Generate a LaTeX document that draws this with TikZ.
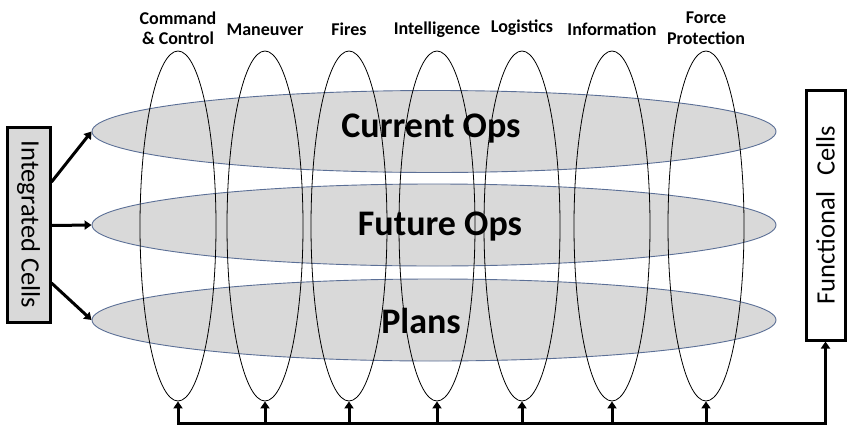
\documentclass[tikz,border=0pt]{standalone}
\usepackage{fontspec}
\setmainfont{Carlito}
\usetikzlibrary{shapes.geometric,arrows.meta,calc}

\definecolor{layerfill}{HTML}{D9D9D9}
\definecolor{layerline}{HTML}{5B6F96}

\tikzset{
  layer/.style={ellipse, draw=layerline, fill=layerfill, line width=0.9pt,
    minimum width=684pt, minimum height=82pt, inner sep=0pt},
  column/.style={ellipse, draw=black, line width=0.8pt,
    minimum width=76pt, minimum height=350pt, inner sep=0pt},
  layertext/.style={font=\fontsize{36}{40}\selectfont\bfseries},
  coltext/.style={font=\fontsize{18}{20.5}\selectfont\bfseries, align=center},
  cellbox/.style={draw=black, line width=3pt, inner sep=0pt,
    font=\fontsize{26.5}{30}\selectfont},
  feed/.style={line width=3pt, -{Triangle[length=7pt,width=9pt]}},
  bus/.style={line width=3pt},
}

\begin{document}
\begin{tikzpicture}[x=1pt, y=-1pt]
  \useasboundingbox (0,0) rectangle (847,426);

  % horizontal planning layers
  \node[layer] (cur) at (434,131.5) {};
  \node[layer] (fut) at (434,225) {};
  \node[layer] (pln) at (434,320) {};

  % functional columns crossing the layers
  \foreach \n/\x in {cc/178, mv/265, fi/349, in/437, lg/522, im/612, fp/706}
    \node[column] (\n) at (\x,226) {};

  % layer titles
  \node[layertext] (curt) at (431,129) {Current Ops};
  \node[layertext] (futt) at (440,227) {Future Ops};
  \node[layertext] (plnt) at (421,321) {Plans};

  % column titles
  \node[coltext] (cct) at (178,28) {Command\\\& Control};
  \node[coltext] (mvt) at (265,30) {Maneuver};
  \node[coltext] (fit) at (349,29) {Fires};
  \node[coltext] (intt) at (437,30) {Intelligence};
  \node[coltext] (lgt) at (522,28) {Logistics};
  \node[coltext] (imt) at (612,29) {Information};
  \node[coltext] (fpt) at (706,28) {Force\\Protection};

  % side boxes
  \node[cellbox, fill=layerfill, minimum width=43pt, minimum height=195pt]
    (ic) at (28.5,224.5) {\rotatebox{-90}{Integrated Cells}};
  \node[cellbox, fill=white, minimum width=39pt, minimum height=250pt]
    (fc) at (825.5,215) {\rotatebox{90}{Functional\hspace{0.6em}Cells}};

  % integrated cells feed each layer
  \draw[feed] ([yshift=42.5pt]ic.east) -- (cur.west);
  \draw[feed] ([yshift=-1pt]ic.east) -- (fut.west);
  \draw[feed] ([yshift=-58.5pt]ic.east) -- (pln.west);

  % functional cells bus along the bottom
  \coordinate (busy) at (0,423);
  \coordinate (busend) at (fc.south |- busy);
  \draw[bus, line cap=rect] (cc.south |- busy) -- (busend);
  \draw[feed, shorten <=-1.5pt] (busend) -- (fc.south);
  \foreach \n in {cc, mv, fi, in, lg, im, fp}
    \draw[feed] (\n.south |- busy) -- (\n.south);
\end{tikzpicture}
\end{document}
